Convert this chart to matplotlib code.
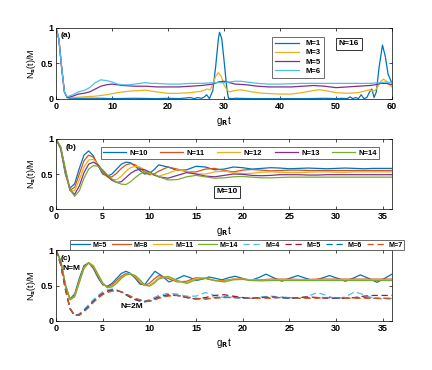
import matplotlib
matplotlib.use('Agg')
import matplotlib.pyplot as plt

plt.rcParams['font.family'] = ['Liberation Sans', 'DejaVu Sans']
plt.rcParams['font.weight'] = 'bold'
plt.rcParams['mathtext.default'] = 'bf'

# MATLAB default colours
c_blue = '#0072BD'
c_orange = '#D95319'
c_yellow = '#EDB120'
c_purple = '#7E2F8E'
c_green = '#77AC30'
c_lblue = '#4DBEEE'
c_red = '#A2142F'

# ---------------- panel (a): N=16 ----------------
t_m1 = [0, 0.5, 1, 1.5, 2, 2.5, 3, 5, 8, 10, 14, 18, 20, 22, 24, 24.7, 25.3, 26, 26.5, 26.9,
        27.4, 28, 28.5, 29, 29.2, 29.6, 30, 30.5, 30.8, 31.5, 32, 35, 40, 45, 48, 50, 51, 52,
        52.5, 53, 53.5, 54, 54.5, 55, 55.5, 56, 56.4, 56.8, 57.2, 57.7, 58.3, 58.8, 59.3, 60]
n_m1 = [1.0, 0.85, 0.45, 0.1, 0.02, 0.01, 0.01, 0.01, 0.01, 0.005, 0.01, 0.005, 0.01, 0.005,
        0.02, 0.005, 0.02, 0.01, 0.03, 0.06, 0.005, 0.12, 0.45, 0.85, 0.94, 0.85, 0.55, 0.15,
        0.01, 0.005, 0.01, 0.005, 0.005, 0.005, 0.01, 0.005, 0.01, 0.005, 0.03, 0.005, 0.02,
        0.005, 0.06, 0.005, 0.02, 0.1, 0.14, 0.02, 0.1, 0.45, 0.76, 0.6, 0.35, 0.22]

t_m3 = [0, 0.5, 1, 1.5, 2, 3, 5, 7, 9, 11, 13, 15, 16, 18, 20, 22, 24, 26, 27, 27.5, 28,
        28.5, 29, 29.5, 30, 30.5, 31, 32, 33, 35, 37, 40, 42, 44, 46, 47, 48, 50, 52, 54, 55,
        56, 56.5, 57, 57.5, 58, 58.5, 59, 59.5, 60]
n_m3 = [1.0, 0.85, 0.45, 0.1, 0.02, 0.02, 0.03, 0.04, 0.06, 0.09, 0.11, 0.12, 0.125, 0.1,
        0.08, 0.08, 0.09, 0.11, 0.14, 0.13, 0.2, 0.32, 0.37, 0.32, 0.2, 0.13, 0.1, 0.12, 0.13,
        0.1, 0.08, 0.07, 0.07, 0.09, 0.12, 0.13, 0.12, 0.09, 0.08, 0.09, 0.11, 0.13, 0.11, 0.12,
        0.18, 0.25, 0.28, 0.25, 0.2, 0.17]

t_m5 = [0, 0.5, 1, 1.5, 2, 3, 4, 5, 6, 7, 8, 9, 10, 11, 12, 14, 16, 18, 20, 22, 24, 26, 27,
        28, 29, 30, 31, 32, 34, 36, 38, 40, 42, 44, 46, 48, 50, 52, 54, 56, 57, 58, 59, 60]
n_m5 = [1.0, 0.85, 0.45, 0.1, 0.02, 0.04, 0.07, 0.08, 0.1, 0.14, 0.18, 0.2, 0.21, 0.2, 0.19,
        0.18, 0.18, 0.17, 0.17, 0.17, 0.18, 0.19, 0.2, 0.21, 0.24, 0.25, 0.23, 0.21, 0.2, 0.18,
        0.17, 0.17, 0.17, 0.18, 0.19, 0.18, 0.16, 0.17, 0.18, 0.19, 0.2, 0.22, 0.22, 0.2]

t_m6 = [0, 0.5, 1, 1.5, 2, 3, 4, 5, 6, 7, 8, 9, 10, 11, 12, 13, 14, 15, 16, 17, 18, 20, 22,
        24, 26, 28, 30, 32, 33, 34, 36, 38, 40, 44, 48, 52, 56, 58, 59, 60]
n_m6 = [1.0, 0.85, 0.45, 0.1, 0.03, 0.06, 0.1, 0.12, 0.16, 0.23, 0.27, 0.26, 0.24, 0.21, 0.2,
        0.2, 0.21, 0.22, 0.23, 0.22, 0.22, 0.21, 0.21, 0.22, 0.22, 0.23, 0.23, 0.25, 0.25, 0.24,
        0.22, 0.21, 0.21, 0.22, 0.22, 0.22, 0.22, 0.23, 0.24, 0.23]

# ---------------- panel (b): M=10 ----------------
t_b = [0, 0.5, 1, 1.5, 2, 2.5, 3, 3.5, 4, 4.5, 5, 5.5, 6, 6.5, 7, 7.5, 8, 8.5, 9, 9.5, 10,
       10.5, 11, 12, 13, 14, 15, 16, 17, 18, 19, 20, 21, 22, 23, 24, 25, 26, 27, 28, 29, 30,
       31, 32, 33, 34, 35, 36]
n10 = [1.00, 0.86, 0.50, 0.30, 0.36, 0.58, 0.77, 0.83, 0.76, 0.62, 0.50, 0.47, 0.50, 0.57,
       0.64, 0.67, 0.66, 0.61, 0.55, 0.50, 0.51, 0.56, 0.63, 0.60, 0.55, 0.56, 0.61, 0.60,
       0.56, 0.57, 0.60, 0.59, 0.57, 0.58, 0.59, 0.585, 0.575, 0.58, 0.585, 0.58, 0.575,
       0.58, 0.585, 0.58, 0.575, 0.58, 0.58, 0.58]
n11 = [1.00, 0.87, 0.52, 0.27, 0.31, 0.50, 0.69, 0.77, 0.74, 0.63, 0.52, 0.46, 0.46, 0.51,
       0.58, 0.63, 0.65, 0.63, 0.58, 0.53, 0.49, 0.50, 0.54, 0.60, 0.57, 0.53, 0.53, 0.57,
       0.58, 0.55, 0.53, 0.555, 0.565, 0.555, 0.545, 0.55, 0.555, 0.555, 0.55, 0.55, 0.55,
       0.55, 0.55, 0.55, 0.55, 0.55, 0.55, 0.55]
n12 = [1.00, 0.88, 0.54, 0.26, 0.26, 0.42, 0.60, 0.70, 0.71, 0.64, 0.54, 0.46, 0.42, 0.42,
       0.47, 0.54, 0.59, 0.61, 0.60, 0.56, 0.51, 0.48, 0.47, 0.51, 0.56, 0.54, 0.50, 0.50,
       0.53, 0.54, 0.52, 0.505, 0.51, 0.525, 0.53, 0.525, 0.52, 0.52, 0.525, 0.53, 0.53,
       0.525, 0.525, 0.53, 0.53, 0.53, 0.53, 0.53]
n13 = [1.00, 0.88, 0.56, 0.27, 0.21, 0.33, 0.52, 0.64, 0.67, 0.63, 0.55, 0.47, 0.41, 0.38,
       0.39, 0.45, 0.51, 0.55, 0.57, 0.56, 0.53, 0.49, 0.46, 0.44, 0.48, 0.52, 0.50, 0.47,
       0.46, 0.48, 0.50, 0.495, 0.48, 0.475, 0.48, 0.49, 0.49, 0.49, 0.485, 0.485, 0.49,
       0.49, 0.49, 0.49, 0.49, 0.49, 0.49, 0.49]
n14 = [1.00, 0.89, 0.58, 0.28, 0.18, 0.26, 0.44, 0.57, 0.62, 0.61, 0.56, 0.49, 0.43, 0.38,
       0.355, 0.35, 0.39, 0.45, 0.50, 0.53, 0.52, 0.50, 0.46, 0.415, 0.42, 0.46, 0.48, 0.46,
       0.44, 0.445, 0.46, 0.465, 0.455, 0.445, 0.445, 0.45, 0.455, 0.455, 0.455, 0.455, 0.455,
       0.455, 0.455, 0.455, 0.455, 0.455, 0.455, 0.455]

# ---------------- panel (c): N=M (solid) and N=2M (dashed) ----------------
t_c = t_b
t_s5 = [0, 0.5, 1, 1.5, 2, 2.5, 3, 3.5, 4, 4.5, 5, 5.5, 6, 6.5, 7, 7.5, 8, 8.5, 9, 9.5, 10,
        10.6, 11.3, 12.1, 12.9, 13.7, 14.4, 15.0, 15.7, 16.4, 17.1, 17.8, 18.5, 19.2, 20.0,
        20.8, 21.7, 22.5, 23.3, 24.2, 25.0, 25.9, 26.8, 27.6, 28.4, 29.3, 30.2, 31.0, 31.8,
        32.6, 33.5, 34.4, 35.2, 36]
s5 = [1.00, 0.84, 0.50, 0.31, 0.38, 0.60, 0.78, 0.82, 0.74, 0.61, 0.51, 0.49, 0.53, 0.60,
      0.67, 0.70, 0.67, 0.60, 0.52, 0.51, 0.60, 0.70, 0.64, 0.55, 0.59, 0.64, 0.61, 0.57, 0.59,
      0.62, 0.60, 0.58, 0.61, 0.63, 0.60, 0.57, 0.61, 0.66, 0.61, 0.56, 0.60, 0.64, 0.60,
      0.57, 0.60, 0.64, 0.60, 0.56, 0.60, 0.65, 0.60, 0.545, 0.60, 0.66]
s8 = [1.00, 0.85, 0.51, 0.30, 0.36, 0.57, 0.76, 0.82, 0.76, 0.63, 0.52, 0.48, 0.51, 0.57,
      0.63, 0.67, 0.66, 0.61, 0.54, 0.50, 0.53, 0.59, 0.64, 0.60, 0.55, 0.56, 0.61, 0.60,
      0.57, 0.57, 0.59, 0.59, 0.58, 0.58, 0.59, 0.59, 0.59, 0.585, 0.585, 0.59, 0.59, 0.59,
      0.59, 0.59, 0.59, 0.59, 0.59, 0.59]
s11 = [1.00, 0.85, 0.51, 0.30, 0.35, 0.56, 0.75, 0.82, 0.77, 0.65, 0.53, 0.47, 0.49, 0.55,
       0.61, 0.66, 0.67, 0.63, 0.56, 0.50, 0.50, 0.55, 0.61, 0.62, 0.56, 0.54, 0.60, 0.61,
       0.57, 0.56, 0.59, 0.59, 0.58, 0.575, 0.58, 0.58, 0.58, 0.58, 0.58, 0.58, 0.58, 0.58,
       0.58, 0.58, 0.58, 0.58, 0.58, 0.58]
s14 = [1.00, 0.85, 0.52, 0.30, 0.34, 0.54, 0.74, 0.82, 0.78, 0.66, 0.54, 0.47, 0.48, 0.53,
       0.60, 0.65, 0.66, 0.64, 0.58, 0.51, 0.49, 0.53, 0.59, 0.63, 0.57, 0.53, 0.58, 0.60,
       0.57, 0.55, 0.58, 0.585, 0.57, 0.565, 0.57, 0.57, 0.57, 0.57, 0.57, 0.57, 0.57, 0.57,
       0.57, 0.57, 0.57, 0.57, 0.57, 0.57]
d4 = [1.0, 0.80, 0.45, 0.17, 0.08, 0.10, 0.16, 0.23, 0.30, 0.36, 0.41, 0.44, 0.45, 0.44,
      0.41, 0.37, 0.33, 0.30, 0.28, 0.28, 0.30, 0.33, 0.36, 0.39, 0.38, 0.35, 0.35, 0.40,
      0.36, 0.33, 0.34, 0.33, 0.32, 0.34, 0.35, 0.34, 0.33, 0.32, 0.35, 0.40, 0.36, 0.31,
      0.34, 0.41, 0.37, 0.32, 0.31, 0.32]
d5 = [1.0, 0.80, 0.45, 0.17, 0.075, 0.09, 0.15, 0.21, 0.28, 0.34, 0.39, 0.42, 0.44, 0.43,
      0.41, 0.37, 0.33, 0.30, 0.28, 0.27, 0.28, 0.31, 0.34, 0.37, 0.36, 0.33, 0.31, 0.33,
      0.36, 0.37, 0.35, 0.33, 0.32, 0.33, 0.34, 0.33, 0.32, 0.33, 0.34, 0.33, 0.32, 0.32,
      0.32, 0.33, 0.35, 0.36, 0.36, 0.36]
d6 = [1.0, 0.80, 0.46, 0.18, 0.075, 0.085, 0.14, 0.20, 0.27, 0.33, 0.38, 0.41, 0.43, 0.43,
      0.41, 0.38, 0.34, 0.31, 0.29, 0.28, 0.28, 0.30, 0.33, 0.36, 0.36, 0.33, 0.31, 0.31,
      0.33, 0.34, 0.33, 0.32, 0.32, 0.33, 0.33, 0.33, 0.32, 0.32, 0.33, 0.33, 0.33, 0.32,
      0.32, 0.33, 0.33, 0.32, 0.32, 0.32]
d7 = [1.0, 0.80, 0.46, 0.18, 0.08, 0.08, 0.13, 0.19, 0.26, 0.32, 0.37, 0.40, 0.42, 0.43,
      0.41, 0.38, 0.35, 0.32, 0.30, 0.28, 0.28, 0.29, 0.32, 0.35, 0.36, 0.34, 0.32, 0.31,
      0.32, 0.33, 0.33, 0.33, 0.32, 0.32, 0.32, 0.33, 0.33, 0.32, 0.32, 0.32, 0.33, 0.33,
      0.32, 0.32, 0.32, 0.32, 0.32, 0.31]

W, H = 432, 370
fig = plt.figure(figsize=(W / 100, H / 100), dpi=100)
ax_a = fig.add_axes([56 / W, 1 - 99 / H, 336 / W, 71 / H])
ax_b = fig.add_axes([56 / W, 1 - 209 / H, 336 / W, 70 / H])
ax_c = fig.add_axes([56 / W, 1 - 321 / H, 336 / W, 71 / H])

fs = 6.5
lw = 0.9


def style(ax, xmax, xticks):
    ax.set_xlim(0, xmax)
    ax.set_ylim(0, 1)
    ax.set_xticks(xticks)
    ax.set_yticks([0, 0.5, 1])
    ax.set_yticklabels(['0', '0.5', '1'])
    ax.tick_params(direction='in', top=True, right=True, labelsize=fs, length=2.5,
                   width=0.5, pad=2)
    for s in ax.spines.values():
        s.set_linewidth(0.5)
    ax.set_xlabel('g$_R$t', fontsize=fs + 0.5, labelpad=2)
    ax.set_ylabel('N$_s$(t)/M', fontsize=fs, labelpad=2)


box = dict(boxstyle='square,pad=0.3', fc='white', ec='#333333', lw=0.7)

# panel (a)
ax_a.plot(t_m1, n_m1, color=c_blue, lw=lw, label='M=1')
ax_a.plot(t_m3, n_m3, color=c_yellow, lw=lw, label='M=3')
ax_a.plot(t_m5, n_m5, color=c_purple, lw=lw, label='M=5')
ax_a.plot(t_m6, n_m6, color=c_lblue, lw=lw, label='M=6')
style(ax_a, 60, [0, 10, 20, 30, 40, 50, 60])
leg = ax_a.legend(loc='upper left', bbox_to_anchor=(0.631, 0.93), fontsize=5.5,
                  handlelength=3.2, handletextpad=0.8, labelspacing=0.25,
                  borderpad=0.4, fancybox=False, edgecolor='#555555', framealpha=1)
leg.get_frame().set_linewidth(0.6)
ax_a.text(0.872, 0.78, 'N=16', transform=ax_a.transAxes, fontsize=6, ha='center',
          va='center', bbox=box)
ax_a.text(0.015, 0.9, '(a)', transform=ax_a.transAxes, fontsize=6, ha='left', va='center')

# panel (b)
for vals, col, lab in [(n10, c_blue, 'N=10'), (n11, c_orange, 'N=11'),
                       (n12, c_yellow, 'N=12'), (n13, c_purple, 'N=13'),
                       (n14, c_green, 'N=14')]:
    ax_b.plot(t_b, vals, color=col, lw=lw, label=lab)
style(ax_b, 36, [0, 5, 10, 15, 20, 25, 30, 35])
leg = ax_b.legend(loc='upper left', bbox_to_anchor=(0.122, 0.935), ncol=5, fontsize=5.5,
                  handlelength=3.0, handletextpad=0.5, columnspacing=1.6,
                  borderpad=0.25, fancybox=False, edgecolor='#555555', framealpha=1)
leg.get_frame().set_linewidth(0.6)
ax_b.text(0.509, 0.25, 'M=10', transform=ax_b.transAxes, fontsize=6, ha='center',
          va='center', bbox=box)
ax_b.text(0.03, 0.88, '(b)', transform=ax_b.transAxes, fontsize=6, ha='left', va='center')

# panel (c)
ax_c.plot(t_s5, s5, color=c_blue, lw=lw, label='M=5')
ax_c.plot(t_c, s8, color=c_orange, lw=lw, label='M=8')
ax_c.plot(t_c, s11, color=c_yellow, lw=lw, label='M=11')
ax_c.plot(t_c, s14, color=c_green, lw=lw, label='M=14')
ax_c.plot(t_c, d4, color=c_lblue, lw=lw, ls='--', dashes=(5, 3), label='M=4')
ax_c.plot(t_c, d5, color=c_red, lw=lw, ls='--', dashes=(5, 3), label='M=5')
ax_c.plot(t_c, d6, color=c_blue, lw=lw, ls='--', dashes=(5, 3), label='M=6')
ax_c.plot(t_c, d7, color=c_orange, lw=lw, ls='--', dashes=(5, 3), label='M=7')
style(ax_c, 36, [0, 5, 10, 15, 20, 25, 30, 35])
leg = ax_c.legend(loc='upper left', bbox_to_anchor=(0.042, 1.135), ncol=8, fontsize=5.2,
                  handlelength=2.6, handletextpad=0.4, columnspacing=0.7,
                  borderpad=0.15, borderaxespad=0, fancybox=False, edgecolor='#555555',
                  framealpha=1)
leg.get_frame().set_linewidth(0.6)
ax_c.text(0.015, 0.88, '(c)', transform=ax_c.transAxes, fontsize=6, ha='left', va='center')
ax_c.text(0.7, 0.74, 'N=M', fontsize=6, ha='left', va='center')
ax_c.text(6.9, 0.2, 'N=2M', fontsize=6, ha='left', va='center')

fig.savefig('out.png', dpi=100)
